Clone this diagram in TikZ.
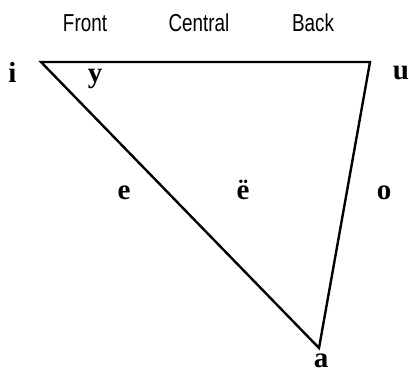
\documentclass[tikz,border=0pt]{standalone}
\usepackage{fontspec}
\setmainfont{Liberation Serif}
\newfontfamily\hdrfont[FakeStretch=0.77]{Liberation Sans}
\begin{document}
\begin{tikzpicture}[x=1pt,y=-1pt,
  hdr/.style={inner sep=0pt,anchor=base,font=\hdrfont\fontsize{24.5}{24.5}\selectfont},
  vow/.style={inner sep=0pt,anchor=base,font=\bfseries\fontsize{29}{29}\selectfont},
  edge/.style={line width=2.4pt,line join=miter}]
\useasboundingbox (0,0) rectangle (409,373);
\node[hdr] (front) at (85,31) {Front};
\node[hdr] (central) at (199,31) {Central};
\node[hdr] (back) at (313,31) {Back};
\coordinate (ti) at (41,62);
\coordinate (tu) at (370,62);
\coordinate (ta) at (319,348);
\draw[edge] (ti) -- (tu) -- (ta) -- cycle;
\node[vow] (i) at (12.5,82) {i};
\node[vow] (y) at (95,82) {y};
\node[vow] (u) at (401,79) {u};
\node[vow] (e) at (124,199) {e};
\node[vow] (eu) at (243,199) {ë};
\node[vow] (o) at (384,199) {o};
\node[vow] (a) at (321,367.5) {a};
\end{tikzpicture}
\end{document}
